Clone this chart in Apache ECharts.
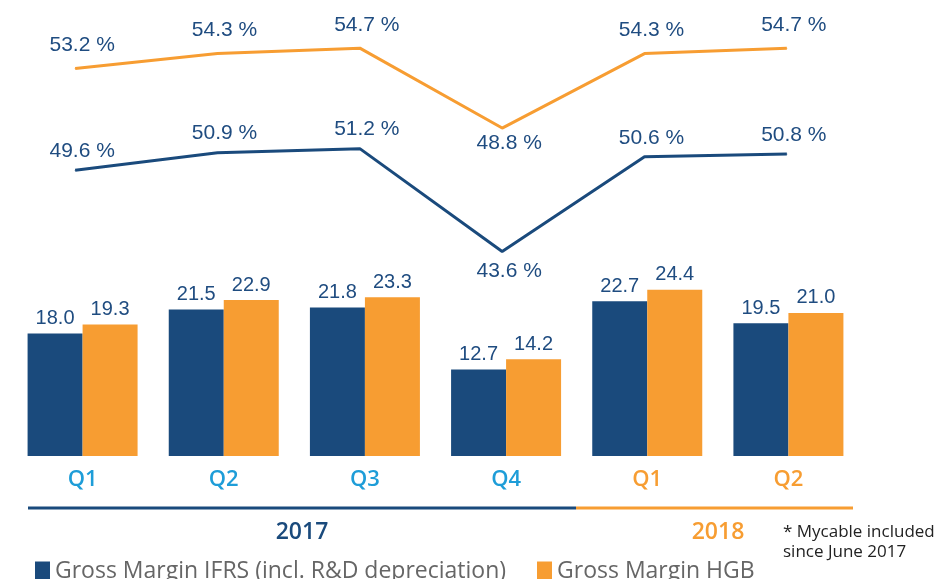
<!DOCTYPE html>
<html>
<head>
<meta charset="utf-8">
<script src="https://cdn.jsdelivr.net/npm/echarts@6/dist/echarts.min.js"></script>
<style>
  html, body { margin: 0; padding: 0; background: #fff; }
  #chart { width: 945px; height: 579px; }
</style>
</head>
<body>
<div id="chart"></div>
<script>
const quarters = ['Q1', 'Q2', 'Q3', 'Q4', 'Q1', 'Q2'];
const quarterYear = ['2017', '2017', '2017', '2017', '2018', '2018'];
const barIFRS = [18.0, 21.5, 21.8, 12.7, 22.7, 19.5];
const barHGB = [19.3, 22.9, 23.3, 14.2, 24.4, 21.0];
const marginIFRS = [49.6, 50.9, 51.2, 43.6, 50.6, 50.8];
const marginHGB = [53.2, 54.3, 54.7, 48.8, 54.3, 54.7];

const NAVY = '#1a4a7c';
const ORANGE = '#f79d32';
const LABEL = '#1f4c80';
const Q_BLUE = '#1e9dd8';
const FONT = 'Liberation Sans, Arial, sans-serif';
const SANS = 'Open Sans, Lato, sans-serif';

const chart = echarts.init(document.getElementById('chart'));

// the dip (Q4) gets its label under the line, the rest above
function lineData(values, lowIndex, upDist, downDist) {
  return values.map((v, i) => ({
    value: v,
    label: i === lowIndex
      ? { position: 'bottom', distance: downDist }
      : { position: 'top', distance: upDist }
  }));
}

const lineLabel = {
  show: true,
  color: LABEL,
  fontSize: 21,
  fontFamily: FONT,
  offset: [7, 0],
  formatter: p => p.value.toFixed(1) + ' %'
};

const barLabel = {
  show: true,
  position: 'top',
  distance: 5,
  color: LABEL,
  fontSize: 20,
  fontFamily: FONT,
  formatter: p => p.value.toFixed(1)
};

chart.setOption({
  animation: false,
  grid: [
    { left: 12, right: 86, top: 20, bottom: 123 },
    { left: 4, right: 87, top: 20, bottom: 123 }
  ],
  xAxis: [
    {
      type: 'category',
      gridIndex: 0,
      data: quarters,
      axisLine: { show: false },
      axisTick: { show: false },
      axisLabel: {
        margin: 13,
        formatter: (v, i) => quarterYear[i] === '2018' ? '{o|' + v + '}' : '{b|' + v + '}',
        rich: {
          b: { color: Q_BLUE, fontSize: 22, fontWeight: 600, fontFamily: SANS },
          o: { color: ORANGE, fontSize: 22, fontWeight: 600, fontFamily: SANS }
        }
      }
    },
    { type: 'category', gridIndex: 1, data: quarters, show: false }
  ],
  yAxis: [
    { type: 'value', gridIndex: 0, min: 0, max: 64, show: false },
    { type: 'value', gridIndex: 1, min: 28.5, max: 60.7, show: false },
    { type: 'value', gridIndex: 1, min: 24.58, max: 56.78, show: false }
  ],
  legend: {
    left: 30,
    top: 555,
    itemWidth: 15,
    itemHeight: 20,
    itemGap: 31,
    icon: 'rect',
    data: ['Gross Margin IFRS (incl. R&D depreciation)', 'Gross Margin HGB'],
    textStyle: { color: '#666', fontSize: 23, fontFamily: SANS }
  },
  series: [
    {
      name: 'Gross Margin IFRS (incl. R&D depreciation)',
      type: 'bar',
      xAxisIndex: 0,
      yAxisIndex: 0,
      barWidth: 55,
      barGap: '0%',
      itemStyle: { color: NAVY },
      label: barLabel,
      data: barIFRS
    },
    {
      name: 'Gross Margin HGB',
      type: 'bar',
      xAxisIndex: 0,
      yAxisIndex: 0,
      barWidth: 55,
      barGap: '0%',
      itemStyle: { color: ORANGE },
      label: barLabel,
      data: barHGB
    },
    {
      name: 'IFRS margin',
      type: 'line',
      xAxisIndex: 1,
      yAxisIndex: 1,
      symbol: 'circle',
      symbolSize: 1,
      showSymbol: true,
      itemStyle: { color: NAVY },
      lineStyle: { color: NAVY, width: 3 },
      label: lineLabel,
      data: lineData(marginIFRS, 3, 8, 9)
    },
    {
      name: 'HGB margin',
      type: 'line',
      xAxisIndex: 1,
      yAxisIndex: 2,
      symbol: 'circle',
      symbolSize: 1,
      showSymbol: true,
      itemStyle: { color: ORANGE },
      lineStyle: { color: ORANGE, width: 3 },
      label: lineLabel,
      data: lineData(marginHGB, 3, 12, 4)
    }
  ],
  graphic: [
    { type: 'line', shape: { x1: 28, y1: 508, x2: 576, y2: 508 }, style: { stroke: NAVY, lineWidth: 3 } },
    { type: 'line', shape: { x1: 576, y1: 508, x2: 853, y2: 508 }, style: { stroke: ORANGE, lineWidth: 3 } },
    {
      type: 'text', x: 302, y: 532,
      style: { text: '2017', fill: NAVY, font: '600 23px ' + SANS, align: 'center', verticalAlign: 'middle' }
    },
    {
      type: 'text', x: 718, y: 532,
      style: { text: '2018', fill: ORANGE, font: '600 23px ' + SANS, align: 'center', verticalAlign: 'middle' }
    },
    {
      type: 'text', x: 783, y: 522,
      style: { text: '* Mycable included\nsince June 2017', fill: '#222', font: '17px ' + SANS, lineHeight: 20 }
    }
  ]
});
</script>
</body>
</html>
